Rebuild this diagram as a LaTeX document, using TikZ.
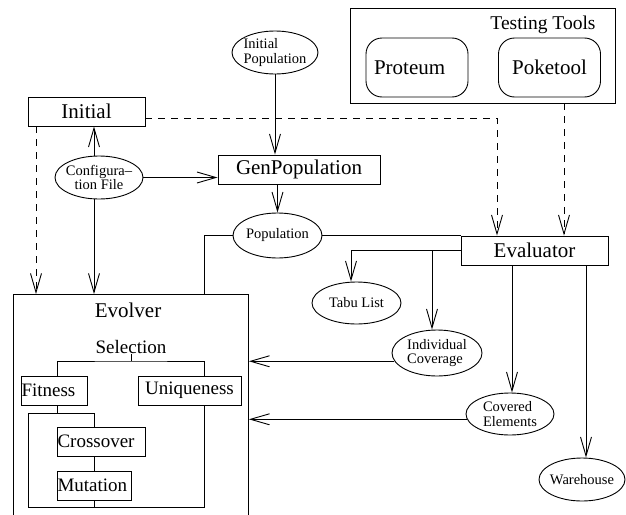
\documentclass[tikz,border=0pt]{standalone}
\usepackage{fontspec}
\setmainfont{Liberation Serif}
\usetikzlibrary{shapes.geometric,arrows.meta}
\begin{document}
\begin{tikzpicture}[x=1pt,y=-1pt, line width=0.9pt,
  big/.style={draw, inner sep=0pt, font=\fontsize{21}{24}\selectfont},
  small/.style={draw, inner sep=0pt, font=\fontsize{19}{22}\selectfont},
  oval/.style={draw, ellipse, inner sep=-5pt, font=\fontsize{14.5}{14.5}\selectfont},
  plain/.style={inner sep=0pt},
  arr/.style={-{Straight Barb[length=19pt,width=11pt]}},
  dsh/.style={dash pattern=on 7pt off 6pt},
]
\useasboundingbox (0,0) rectangle (626,514);
\clip (0,0) rectangle (626,514);

% testing tools group
\node[draw, inner sep=0pt, minimum width=265pt, minimum height=95pt] (tools) at (482.5,55.5) {};
\node[plain, font=\fontsize{19.5}{22}\selectfont] (toolslbl) at (543,25) {Testing Tools};
\node[big, rounded corners=16pt, minimum height=59pt, text width=86pt, inner xsep=8pt, align=left] (proteum) at (417,67.5) {Proteum};
\node[big, rounded corners=16pt, minimum width=102pt, minimum height=59pt] (poketool) at (549.5,67.5) {Poketool};

% main blocks
\node[big, minimum width=117pt, minimum height=29pt] (initial) at (86.5,111.5) {Initial};
\node[big, minimum width=162pt, minimum height=29pt] (genpop) at (299,169.5) {GenPopulation};
\node[big, minimum width=147pt, minimum height=29pt] (evaluator) at (534.5,250.5) {Evaluator};
\node[draw, inner sep=0pt, minimum width=235pt, minimum height=260pt, anchor=north west] (evolver) at (13,294) {};
\node[plain, font=\fontsize{21}{24}\selectfont] (evolverlbl) at (128,310) {Evolver};

% data
\node[oval, minimum width=86pt, minimum height=43pt, align=left] (inipop) at (275,52.5) {Initial\\Population};
\node[oval, minimum width=88pt, minimum height=43pt, align=center] (config) at (99,177.5) {Configura–\\tion File};
\node[oval, minimum width=89pt, minimum height=45pt] (pop) at (277.5,235.5) {Population};
\node[oval, minimum width=89pt, minimum height=42pt] (tabu) at (356.5,303) {Tabu List};
\node[oval, minimum width=90pt, minimum height=46pt, align=left] (indcov) at (437,353) {Individual\\Coverage};
\node[oval, minimum width=88pt, minimum height=42pt, align=left] (covel) at (510,414) {Covered\\Elements};
\node[oval, minimum width=86pt, minimum height=43pt] (ware) at (582,479.5) {Warehouse};

% evolver internals
\node[plain, font=\fontsize{19}{22}\selectfont] (sel) at (131,346.5) {Selection};
\node[small, minimum height=29pt, text width=65pt, inner xsep=0.5pt, align=left] (fit) at (54,390.5) {Fitness};
\node[small, minimum width=103pt, minimum height=29pt] (uniq) at (189.5,390.5) {Uniqueness};
\node[small, minimum height=29pt, text width=87pt, inner xsep=0.5pt, align=left] (cross) at (101,441.5) {Crossover};
\node[small, minimum height=29pt, text width=73pt, inner xsep=0.5pt, align=left] (mut) at (94,485.5) {Mutation};
\coordinate (bar) at (131,361);
\coordinate (loopL) at (28,413);
\coordinate (loopB) at (28,507);

\draw (sel.south) -- (bar);
\draw ([xshift=3pt]fit.north) |- (bar) -| ([xshift=14.5pt]uniq.north);
\draw ([xshift=3pt]fit.south) -- ([xshift=3pt]fit.south |- loopL);
\draw ([xshift=-7pt]cross.north) |- (loopL) -- (loopB) -| ([xshift=14.5pt]uniq.south);
\draw (mut.south) -- (mut.south |- loopB);
\draw ([xshift=-7pt]cross.south) -- (mut.north);

% flows
\draw[arr] (inipop.south) -- (inipop.south |- genpop.north);
\draw[arr] (config.east) -- (config.east -| genpop.west);
\draw[arr] ([xshift=-5pt]config.north) -- ([xshift=-5pt]config.north |- initial.south);
\draw[arr] ([xshift=-5pt]config.south) -- ([xshift=-5pt]config.south |- evolver.north);
\draw[arr, dsh] ([xshift=-50.5pt]initial.south) -- ([xshift=-50.5pt]initial.south |- evolver.north);
\draw[arr, dsh] ([yshift=-6.5pt]initial.east) -| ([xshift=-37.5pt]evaluator.north);
\draw[arr, dsh] ([xshift=81.5pt]tools.south) -- ([xshift=81.5pt]tools.south |- evaluator.north);
\draw[arr] (genpop.south -| pop.north) -- (pop.north);
\draw (pop.east) -- (pop.east -| evaluator.west);
\draw (pop.west) -| ([xshift=-44pt]evolver.north east);
\draw[arr] (evaluator.west) -| ([xshift=-5.5pt]tabu.north);
\draw[arr] ([xshift=-5pt]indcov.north |- evaluator.west) -- ([xshift=-5pt]indcov.north);
\draw[arr] ([xshift=-22.5pt]evaluator.south) -- ([xshift=-22.5pt]evaluator.south |- covel.north);
\draw[arr] ([xshift=51.5pt]evaluator.south) -- ([xshift=51.5pt]evaluator.south |- ware.north);
\draw[arr] (indcov.191) -- (indcov.191 -| evolver.east);
\draw[arr] (covel.187) -- (covel.187 -| evolver.east);
\end{tikzpicture}
\end{document}
